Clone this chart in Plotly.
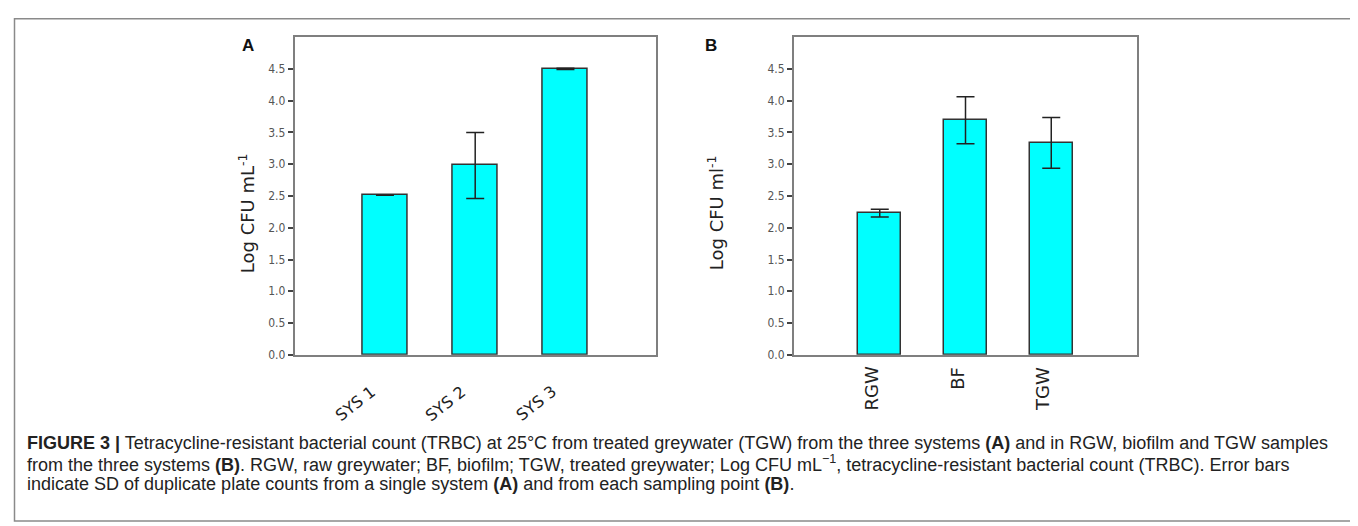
import plotly.graph_objects as go

# ---- data ----
cats_a = ["SYS 1", "SYS 2", "SYS 3"]
vals_a = [2.51, 2.98, 4.50]
err_a = [0.0, 0.52, 0.01]

cats_b = ["RGW", "BF", "TGW"]
vals_b = [2.23, 3.69, 3.335]
err_b = [0.06, 0.37, 0.40]

y_ticks = [0.0, 0.5, 1.0, 1.5, 2.0, 2.5, 3.0, 3.5, 4.0, 4.5]
y_ticktext = ["%.1f" % v for v in y_ticks]

W, H = 1358, 526
def px(x):
    return x / W
def py(y):
    return 1 - y / H

BAR_COLOR = "#00FFFF"
BOX_COLOR = "#7f7f7f"
TICK_FONT = dict(family="DejaVu Sans Condensed, Open Sans, sans-serif", size=12, color="#555555")
XLAB_FONT = "DejaVu Sans, Verdana, sans-serif"

fig = go.Figure()
fig.add_trace(go.Bar(
    x=cats_a, y=vals_a, xaxis="x", yaxis="y", width=0.5,
    marker=dict(color=BAR_COLOR, line=dict(color="#333333", width=1.5)),
    error_y=dict(type="data", array=err_a, color="#222222", thickness=1.5, width=9),
    showlegend=False,
))
fig.add_trace(go.Bar(
    x=cats_b, y=vals_b, xaxis="x2", yaxis="y2", width=0.5,
    marker=dict(color=BAR_COLOR, line=dict(color="#333333", width=1.5)),
    error_y=dict(type="data", array=err_b, color="#222222", thickness=1.5, width=9),
    showlegend=False,
))

ydom = [py(351.5), py(29.5)]
common_y = dict(
    range=[0, 5.0], tickvals=y_ticks, ticktext=y_ticktext, ticks="outside",
    ticklen=5, tickwidth=1.5, tickcolor="#444444", showgrid=False, zeroline=False,
    showline=True, linecolor=BOX_COLOR, linewidth=2, mirror=True, tickfont=TICK_FONT,
)
common_x = dict(
    type="category", range=[-1, 3], showgrid=False, zeroline=False, ticks="",
    showticklabels=False,
    showline=True, linecolor=BOX_COLOR, linewidth=2, mirror=True,
)

fig.update_layout(
    width=W, height=H, margin=dict(l=0, r=0, t=0, b=0),
    paper_bgcolor="white", plot_bgcolor="white", bargap=0,
    xaxis=dict(domain=[px(286.7), px(647.7)], anchor="y", **common_x),
    yaxis=dict(domain=ydom, anchor="x", **common_y),
    xaxis2=dict(domain=[px(786), px(1129)], anchor="y2", **common_x),
    yaxis2=dict(domain=ydom, anchor="x2", **common_y),
)

# category labels, placed at each category position of the axes
for c in cats_a:
    fig.add_annotation(text=c, xref="x", yref="y", x=c, y=0, textangle=-38,
                       xanchor="right", yanchor="top", xshift=-3, yshift=-25,
                       showarrow=False,
                       font=dict(family=XLAB_FONT, size=16, color="#222222"))
for c in cats_b:
    fig.add_annotation(text=c, xref="x2", yref="y2", x=c, y=0, textangle=-90,
                       xanchor="center", yanchor="top", xshift=-8, yshift=-10,
                       showarrow=False,
                       font=dict(family=XLAB_FONT, size=18, color="#222222"))

# outer frame
fig.add_shape(type="rect", xref="paper", yref="paper",
              x0=px(6.5), x1=px(1352), y0=py(520), y1=py(11),
              line=dict(color="#8a8a8a", width=1.5), fillcolor="rgba(0,0,0,0)")

# panel letters
for lab, x in [("A", 240), ("B", 702.5)]:
    fig.add_annotation(text="<b>%s</b>" % lab, xref="paper", yref="paper",
                       x=px(x), y=py(38), xanchor="center", yanchor="middle", showarrow=False,
                       font=dict(family="Liberation Sans, Arial, sans-serif", size=17, color="#111111"))

# y-axis titles
for txt, x in [("Log CFU mL<sup>-1</sup>", 239), ("Log CFU ml<sup>-1</sup>", 708)]:
    fig.add_annotation(text=txt, xref="paper", yref="paper", x=px(x), y=py(208),
                       xanchor="center", yanchor="middle",
                       showarrow=False, textangle=-90,
                       font=dict(family="DejaVu Sans, Verdana, sans-serif", size=18, color="#222222"))

# caption
cap_font = dict(family="Liberation Sans, Arial, sans-serif", size=18, color="#222222")
caption = [
    "<b>FIGURE 3 |</b> Tetracycline-resistant bacterial count (TRBC) at 25°C from treated greywater (TGW) from the three systems <b>(A)</b> and in RGW, biofilm and TGW samples",
    "from the three systems <b>(B)</b>. RGW, raw greywater; BF, biofilm; TGW, treated greywater; Log CFU mL<sup>−1</sup>, tetracycline-resistant bacterial count (TRBC). Error bars",
    "indicate SD of duplicate plate counts from a single system <b>(A)</b> and from each sampling point <b>(B)</b>.",
]
for i, line in enumerate(caption):
    fig.add_annotation(text=line, xref="paper", yref="paper", x=px(17), y=py(441 + 20.5 * i),
                       xanchor="left", yanchor="middle", showarrow=False, font=cap_font)

fig.write_html("out.html")
